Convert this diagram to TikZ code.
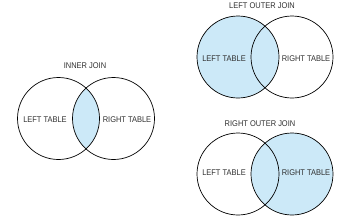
\documentclass[tikz,border=0pt]{standalone}
\usepackage{fontspec}
\setmainfont{Liberation Sans}[FakeStretch=0.9]
\definecolor{venn}{HTML}{CCE9F8}
\definecolor{txt}{HTML}{303030}
\begin{document}
\begin{tikzpicture}[x=1pt,y=-1pt,
  ring/.style={draw=black,line width=0.7pt},
  lbl/.style={text=txt,font=\fontsize{8.3}{9}\selectfont,inner sep=0pt},
  ttl/.style={text=txt,font=\fontsize{8.3}{9}\selectfont,inner sep=0pt}]
\useasboundingbox (0,0) rectangle (339,217);
\def\R{41}
% centers
\coordinate (iL) at (58.5,118.5);
\coordinate (iR) at (113.5,118.5);
\coordinate (lL) at (238,57);
\coordinate (lR) at (292,57);
\coordinate (rL) at (238,174);
\coordinate (rR) at (292,174);
% fills
\begin{scope}
  \clip (iL) circle (\R);
  \fill[venn] (iR) circle (\R);
\end{scope}
\fill[venn] (lL) circle (\R);
\fill[venn] (rR) circle (\R);
% outlines
\draw[ring] (iL) circle (\R);
\draw[ring] (iR) circle (\R);
\draw[ring] (lL) circle (\R);
\draw[ring] (lR) circle (\R);
\draw[ring] (rL) circle (\R);
\draw[ring] (rR) circle (\R);
% titles
\node[ttl] (t1) at (85,66) {INNER JOIN};
\node[ttl] (t2) at (262,6) {LEFT OUTER JOIN};
\node[ttl] (t3) at (260,124) {RIGHT OUTER JOIN};
% labels
\node[lbl] (a1) at (45,120) {LEFT TABLE};
\node[lbl] (b1) at (127,120) {RIGHT TABLE};
\node[lbl] (a2) at (224,59) {LEFT TABLE};
\node[lbl] (b2) at (306,59) {RIGHT TABLE};
\node[lbl] (a3) at (224,173) {LEFT TABLE};
\node[lbl] (b3) at (306,173) {RIGHT TABLE};
\end{tikzpicture}
\end{document}
